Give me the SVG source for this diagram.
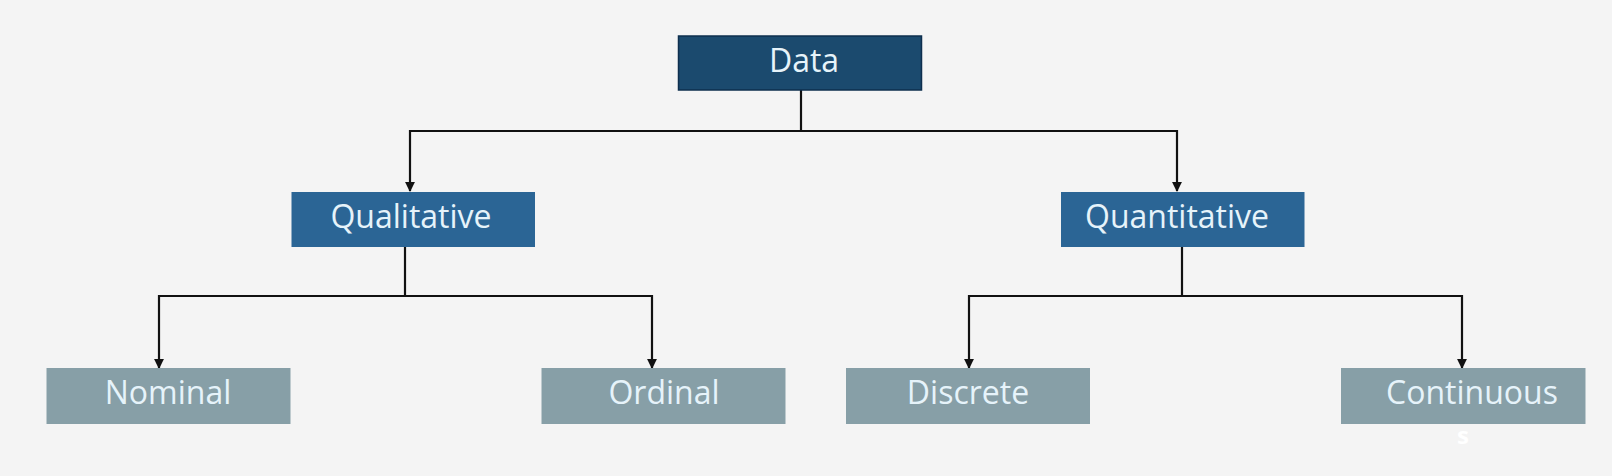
<svg xmlns="http://www.w3.org/2000/svg" width="1612" height="476" viewBox="0 0 1612 476">
<defs>
<style>
.t{font-family:"Open Sans","Noto Sans",sans-serif;font-size:32px;fill:#e6f3fa;text-anchor:middle}
.c{fill:none;stroke:#111;stroke-width:2.2}
.top{fill:#1b4a6e;stroke:#0e2f4e;stroke-width:1.5}
.mid{fill:#2b6595}
.low{fill:#879fa7}
</style>
<marker id="ah" viewBox="0 0 10 10" refX="9" refY="5" markerWidth="4.5" markerHeight="4.5" orient="auto" markerUnits="strokeWidth">
<path d="M0,0 L10,5 L0,10 z" fill="#111"/>
</marker>
</defs>
<rect width="1612" height="476" fill="#f4f4f4"/>
<g id="connectors">
<path class="c" d="M801,90 V131"/>
<path class="c" d="M410,131 H1177" />
<path class="c" d="M410,130 V191" marker-end="url(#ah)"/>
<path class="c" d="M1177,130 V191" marker-end="url(#ah)"/>
<path class="c" d="M405,247 V296"/>
<path class="c" d="M159,296 H652"/>
<path class="c" d="M159,295 V368" marker-end="url(#ah)"/>
<path class="c" d="M652,295 V368" marker-end="url(#ah)"/>
<path class="c" d="M1182,247 V296"/>
<path class="c" d="M969,296 H1462"/>
<path class="c" d="M969,295 V368" marker-end="url(#ah)"/>
<path class="c" d="M1462,295 V368" marker-end="url(#ah)"/>
</g>
<g id="data"><rect class="top" x="678.5" y="36" width="243" height="54"/><text class="t" x="804" y="72">Data</text></g>
<g id="qualitative"><rect class="mid" x="291.5" y="192" width="243.5" height="55"/><text class="t" x="411" y="228">Qualitative</text></g>
<g id="quantitative"><rect class="mid" x="1061" y="192" width="243.5" height="55"/><text class="t" x="1177" y="228">Quantitative</text></g>
<g id="nominal"><rect class="low" x="46.5" y="368" width="244" height="56"/><text class="t" x="168" y="404">Nominal</text></g>
<g id="ordinal"><rect class="low" x="541.5" y="368" width="244" height="56"/><text class="t" x="664" y="404">Ordinal</text></g>
<g id="discrete"><rect class="low" x="846" y="368" width="244" height="56"/><text class="t" x="968" y="404">Discrete</text></g>
<g id="continuous"><rect class="low" x="1341" y="368" width="244.5" height="56"/><text class="t" x="1472" y="404">Continuous</text><text class="t" x="1463" y="444" style="font-size:24px;font-weight:bold;fill:#ffffff">s</text></g>
</svg>
